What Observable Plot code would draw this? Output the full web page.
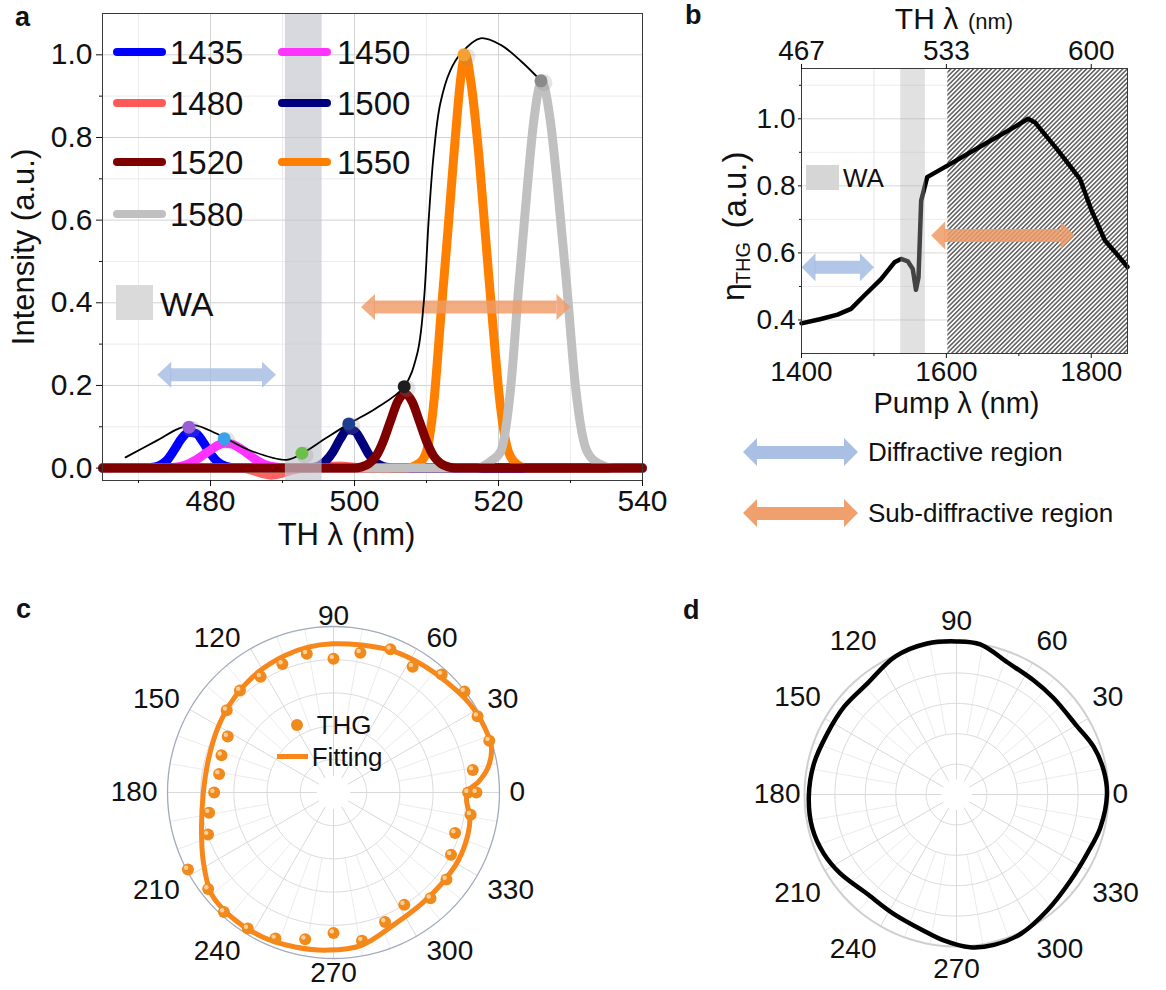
<!DOCTYPE html>
<html>
<head>
<meta charset="utf-8">
<script src="https://cdn.jsdelivr.net/npm/d3@7"></script>
<script src="https://cdn.jsdelivr.net/npm/@observablehq/plot@0.6"></script>
<style>
  html, body { margin: 0; padding: 0; background: #fff; }
  #fig { position: relative; width: 1166px; height: 990px; overflow: hidden; background: #fff;
         font-family: "Liberation Sans", Arial, Helvetica, sans-serif; color: #111; }
  #fig svg { overflow: visible; }
  .t { position: absolute; white-space: nowrap; line-height: 1.2; }
</style>
</head>
<body>
<div id="fig"></div>
<script>
// ================= DATA =================
// ---- Panel a : TH spectra for each pump wavelength ----
const seriesNames  = ["1435", "1450", "1480", "1500", "1520", "1550", "1580"];
const seriesColors = ["#0000ff", "#ff33ff", "#ff4646", "#00007f", "#7f0000", "#ff8000", "#c0c0c0"];
const s1435 = [[465,0],[471,0],[472,0.002],[473,0.007],[474,0.02],[475,0.045],[476,0.072],[477,0.087],[478,0.084],[479,0.062],[480,0.035],[481,0.015],[482,0.005],[483,0.001],[484,0],[540,0]];
const s1450 = [[465,0],[474,0],[475,0.002],[476,0.005],[477,0.011],[478,0.02],[479,0.032],[480,0.044],[481,0.055],[482,0.06],[483,0.058],[484,0.049],[485,0.037],[486,0.024],[487,0.013],[488,0.006],[489,0.003],[490,0.001],[491,0],[540,0]];
const s1480 = [[465,0],[484,0],[485.5,-0.004],[487,-0.012],[488.5,-0.017],[490,-0.012],[491.5,-0.004],[493,0],[496,0.004],[498,0.005],[500,0.002],[502,0],[540,0]];
const s1500 = [[465,0],[493,0],[494,0.001],[495,0.005],[496,0.017],[497,0.039],[498,0.07],[499,0.093],[500,0.09],[501,0.064],[502,0.033],[503,0.013],[504,0.004],[505,0.001],[506,0],[540,0]];
const s1520 = [[465,0],[500,0],[501,0.003],[502,0.011],[503,0.029],[504,0.065],[505,0.114],[506,0.161],[507,0.18],[508,0.161],[509,0.114],[510,0.065],[511,0.029],[512,0.011],[513,0.003],[514,0],[540,0]];
const s1550 = [[465,0],[507,0],[509,0.012],[510,0.04],[511,0.155],[512,0.37],[513,0.58],[514,0.8],[514.8,0.95],[515.4,1.0],[516.2,0.93],[517.2,0.77],[518.2,0.56],[519.2,0.35],[520.2,0.16],[521.2,0.05],[522.2,0.015],[524,0],[540,0]];
const s1580 = [[465,0],[517,0],[519,0.018],[520.3,0.04],[521.7,0.196],[522.8,0.437],[524,0.68],[524.9,0.84],[526,0.935],[527.2,0.84],[528.2,0.68],[529.5,0.437],[530.7,0.196],[532.3,0.04],[534,0.01],[536,0],[540,0]];
const seriesData = [s1435, s1450, s1480, s1500, s1520, s1550, s1580];
const drawOrder  = [0, 1, 2, 3, 5, 6, 4];
const envelope = [[468.2,0.026],[472.6,0.067],[475.5,0.095],[477.7,0.104],[480.9,0.083],[485.6,0.042],[490.6,0.02],[492.7,0.035],[496,0.072],[499.2,0.107],[503,0.145],[506.9,0.197],[508.7,0.276],[509.6,0.397],[510.3,0.6],[511.0,0.76],[511.9,0.881],[513.3,0.962],[514.9,1.006],[517.5,1.04],[520.3,1.024],[523.1,0.985],[525.9,0.937]];
const peakMarkers  = [[477.0,0.099],[481.9,0.071],[492.7,0.036],[499.2,0.107],[506.9,0.197],[515.2,1.0],[525.9,0.937]];
const markerColors = ["#9a5fd6", "#39a2ea", "#6dbf4b", "#1f3f8f", "#1e1e1e", "#f5a030", "#8a8a8a"];
const waBandA = [490.4, 495.5];
const arrowsA = [{x1: 472.6, x2: 489.1, y: 0.226, region: "Diffractive region"}, {x1: 500.9, x2: 530.0, y: 0.39, region: "Sub-diffractive region"}];
const xMajorA = [480, 500, 520, 540], xMinorA = [470, 490, 510, 530];
const yMajorA = [0, 0.2, 0.4, 0.6, 0.8, 1.0], yMinorA = [0.1, 0.3, 0.5, 0.7, 0.9];

// ---- Panel b : THG efficiency vs pump wavelength ----
const pumpWavelength = [1400,1426.8,1449.8,1468.3,1486.7,1509.8,1528.3,1537.5,1546.7,1553.6,1558,1561.5,1565.2,1573.5,1602,1648.2,1694.3,1712.8,1722,1754.3,1784.3,1800.5,1818.9,1832.7,1850];
const etaTHG         = [0.39,0.403,0.416,0.433,0.473,0.522,0.572,0.582,0.575,0.552,0.49,0.527,0.756,0.826,0.861,0.919,0.976,1.0,0.99,0.905,0.821,0.726,0.637,0.603,0.558];
const waBandB = [1537, 1571];
const hatchB = [1602, 1850];
const arrowsB = [{x1: 1400, x2: 1500, y: 0.557, region: "Diffractive region"}, {x1: 1579, x2: 1777, y: 0.652, region: "Sub-diffractive region"}];
const pumpTicks = [1400, 1600, 1800];
const thTickLabels = ["467", "533", "600"];
const yMajorB = [0.4, 0.6, 0.8, 1.0], yMinorB = [0.5, 0.7, 0.9, 1.1];
const regionNames = ["Diffractive region", "Sub-diffractive region"];
const regionColors = ["#a5bce3", "#ef9b66"];

// ---- Panel c : THG polar (angle deg, normalized intensity) ----
const thgPolar = [[0,0.811],[9.2,0.85],[18.4,0.989],[27.9,0.982],[37.6,0.996],[47.5,0.965],[57.8,0.895],[68.3,0.928],[79.1,0.857],[90,0.806],[100.9,0.851],[111.7,0.833],[122.2,0.824],[132.5,0.834],[142.4,0.812],[152.1,0.721],[161.6,0.711],[170.8,0.698],[180,0.719],[189.2,0.759],[198.5,0.797],[207.9,0.992],[217.6,0.953],[227.5,0.977],[237.8,0.969],[248.3,0.946],[259.1,0.901],[270,0.847],[280.9,0.909],[291.7,0.84],[302.2,0.8],[312.5,0.865],[322.4,0.859],[332.1,0.801],[341.6,0.772],[350.8,0.837],[360,0.861]];
const fitPolar = [[0.8,0.811],[4.1,0.874],[9.3,0.944],[16,0.99],[23.3,0.991],[33.1,0.979],[43.4,0.954],[55.3,0.937],[68,0.923],[79.2,0.904],[90.4,0.896],[99.9,0.889],[109.5,0.876],[122.1,0.855],[136,0.827],[150.5,0.799],[165.6,0.779],[180.6,0.785],[194.7,0.822],[207.6,0.886],[219.7,0.956],[230.7,0.97],[243.6,0.97],[256,0.959],[268,0.95],[280.4,0.936],[295.1,0.874],[308.3,0.855],[319.8,0.852],[331.4,0.856],[343,0.848],[349.7,0.835],[356.6,0.803]];

// ---- Panel d : polar response ----
const dPolar = [[0,0.99],[9,0.982],[19,0.956],[30,0.91],[45,0.9],[56,0.906],[69,0.932],[81,1.0],[90,1.007],[101,1.012],[114,0.993],[129,0.936],[142,0.938],[155,0.94],[168,0.96],[181,0.972],[193,0.974],[204,0.956],[214,0.925],[228,0.879],[242,0.887],[256,0.92],[265,0.964],[275,1.009],[284,1.02],[295,1.009],[308,0.969],[323,0.94],[336,0.944],[347,0.971]];
const polarLabelAngles = [0, 30, 60, 90, 120, 150, 180, 210, 240, 270, 300, 330];
const ringRadii = [0.2, 0.4, 0.6, 0.8];
const majorSpokes = [0, 30, 60, 90, 120, 150, 180, 210, 240, 270, 300, 330];
const minorSpokes = d3.range(0, 360, 10).filter(a => a % 30 !== 0);
const ringAngles = d3.range(0, 360, 6);

// ================= HELPERS =================
const FONT = '"Liberation Sans", Arial, Helvetica, sans-serif';
const fig = document.getElementById("fig");
const baseStyle = {fontFamily: FONT, color: "#111", background: "transparent", overflow: "visible", maxWidth: "none"};
function mount(node, left, top) {
  const w = document.createElement("div");
  w.style.cssText = `position:absolute;left:${left}px;top:${top}px;`;
  w.appendChild(node); fig.appendChild(w); return w;
}
function label(text, x, baseline, size, {anchor = "start", weight = "normal"} = {}) {
  const d = document.createElement("div");
  d.className = "t";
  d.textContent = text;
  d.style.left = x + "px";
  d.style.top = (baseline - 0.9465 * size) + "px";
  d.style.fontSize = size + "px";
  d.style.fontWeight = weight;
  if (anchor === "middle") d.style.transform = "translateX(-50%)";
  if (anchor === "end") d.style.transform = "translateX(-100%)";
  fig.appendChild(d); return d;
}
function box(x, y, w, h, css) {
  const d = document.createElement("div");
  d.style.cssText = `position:absolute;left:${x}px;top:${y}px;width:${w}px;height:${h}px;` + css;
  fig.appendChild(d); return d;
}
function cssArrow(x1, x2, yc, color, shaft = 13, len = 14, half = 14) {
  const c = box(x1, yc - half, x2 - x1, 2 * half, "opacity:0.95;");
  c.innerHTML =
    `<div style="position:absolute;left:${len}px;right:${len}px;top:${half - shaft / 2}px;height:${shaft}px;background:${color}"></div>` +
    `<div style="position:absolute;left:0;top:0;width:0;height:0;border-top:${half}px solid transparent;border-bottom:${half}px solid transparent;border-right:${len}px solid ${color}"></div>` +
    `<div style="position:absolute;right:0;top:0;width:0;height:0;border-top:${half}px solid transparent;border-bottom:${half}px solid transparent;border-left:${len}px solid ${color}"></div>`;
}
// double-headed arrow drawn with Plot marks (shaft rule + triangular heads)
function arrowMarks(data, colorOf, {len = 14, half = 13, width = 13, opacity = 0.85} = {}) {
  const right = {draw(ctx) { ctx.moveTo(0, 0); ctx.lineTo(-len, -half); ctx.lineTo(-len, half); ctx.closePath(); }};
  const left  = {draw(ctx) { ctx.moveTo(0, 0); ctx.lineTo(len, -half); ctx.lineTo(len, half); ctx.closePath(); }};
  return data.map(d => [
    Plot.ruleY([d], {y: "y", x1: "x1", x2: "x2", stroke: colorOf(d), strokeWidth: width, strokeOpacity: opacity, insetLeft: len - 0.5, insetRight: len - 0.5}),
    Plot.dot([d], {x: "x1", y: "y", symbol: left, r: 5, fill: colorOf(d), fillOpacity: opacity}),
    Plot.dot([d], {x: "x2", y: "y", symbol: right, r: 5, fill: colorOf(d), fillOpacity: opacity})
  ]);
}
const regionColor = d => regionColors[regionNames.indexOf(d.region)];
const rad = a => a * Math.PI / 180;
const T = (s, opts) => Plot.text([s], {text: d => d, textAnchor: "middle", lineAnchor: "middle", ...opts});

// ================= PANEL A =================
const plotA = Plot.plot({
  width: 660, height: 560,
  marginLeft: 102, marginRight: 18, marginTop: 13, marginBottom: 80,
  style: {...baseStyle, fontSize: "30px"},
  x: {domain: [465, 540]},
  y: {domain: [-0.03, 1.1]},
  color: {type: "identity"},
  marks: [
    Plot.gridX(xMinorA, {stroke: "#ececec", strokeOpacity: 1}),
    Plot.gridY(yMinorA, {stroke: "#ececec", strokeOpacity: 1}),
    Plot.gridX(xMajorA, {stroke: "#d2d2d2", strokeOpacity: 1}),
    Plot.gridY(yMajorA, {stroke: "#d2d2d2", strokeOpacity: 1}),
    drawOrder.map(i => Plot.line(seriesData[i], {
      x: d => d[0], y: d => d[1], stroke: seriesColors[i], strokeWidth: 9,
      strokeOpacity: i === 2 ? 0.85 : 1, curve: "monotone-x", strokeLinejoin: "round"
    })),
    Plot.rect([waBandA], {x1: d => d[0], x2: d => d[1], fill: "#c5c5d0", fillOpacity: 0.68}),
    arrowMarks(arrowsA, regionColor, {len: 14, half: 13, width: 13, opacity: 0.82}),
    Plot.line(envelope, {x: d => d[0], y: d => d[1], stroke: "#000", strokeWidth: 1.8, curve: "catmull-rom"}),
    Plot.dot(peakMarkers, {x: d => d[0], y: d => d[1], r: 8.5, fill: "#888", fillOpacity: 0.22, dx: 3, dy: 2}),
    Plot.dot(peakMarkers, {x: d => d[0], y: d => d[1], r: 6.5, fill: (d, i) => markerColors[i]}),
    Plot.frame({stroke: "#3a3a3a"}),
    Plot.axisX(xMajorA, {tickSize: 6, tickPadding: 3, fontSize: 30, label: null}),
    Plot.axisX(xMinorA, {tickSize: 3, tickFormat: () => "", label: null}),
    Plot.axisY(yMajorA, {tickSize: 6, tickPadding: 4, tickFormat: ".1f", fontSize: 30, label: null}),
    Plot.axisY(yMinorA, {tickSize: 3, tickFormat: () => "", label: null}),
    T("TH λ (nm)", {frameAnchor: "bottom", dx: -26, dy: 55, fontSize: 31}),
    T("Intensity (a.u.)", {frameAnchor: "left", rotate: -90, dx: -78, fontSize: 31})
  ]
});
mount(plotA, 0, 0);

// legend of panel a (HTML overlay)
const legRows = [52, 103, 162, 214], legLineX = [113, 278], legTextX = [170, 337];
seriesNames.forEach((name, i) => {
  const col = i % 2, row = Math.floor(i / 2);
  box(legLineX[col], legRows[row] - 4, 53, 8, `background:${seriesColors[i]};border-radius:4px;opacity:${i === 2 ? 0.9 : 1};`);
  label(name, legTextX[col], legRows[row] + 11.8, 33);
});
box(116, 285, 36.5, 35, "background:#dadada;");
label("WA", 160, 316, 34);

// ================= PANEL B =================
const plotB = Plot.plot({
  width: 506, height: 420,
  marginLeft: 141, marginRight: 39, marginTop: 68, marginBottom: 67,
  style: {...baseStyle, fontSize: "28px"},
  x: {domain: [1400, 1850]},
  y: {domain: [0.3, 1.15]},
  marks: [
    Plot.gridY(yMinorB, {stroke: "#ededed", strokeOpacity: 1}),
    Plot.gridY(yMajorB, {stroke: "#d8d8d8", strokeOpacity: 1}),
    Plot.gridX([1500, 1700], {stroke: "#e4e4e4", strokeOpacity: 1}),
    Plot.rect([hatchB], {x1: d => d[0], x2: d => d[1], fill: "url(#hatchB)"}),
    Plot.line(pumpWavelength.map((p, i) => [p, etaTHG[i]]), {x: d => d[0], y: d => d[1], stroke: "#000", strokeWidth: 4.5, curve: "linear", strokeLinejoin: "round"}),
    Plot.rect([waBandB], {x1: d => d[0], x2: d => d[1], fill: "#b0b0b0", fillOpacity: 0.38}),
    arrowMarks(arrowsB, regionColor, {len: 14, half: 14, width: 13, opacity: 0.85}),
    Plot.frame({stroke: "#3a3a3a"}),
    Plot.axisX(pumpTicks, {tickSize: 5, tickPadding: 3, fontSize: 28, label: null, tickFormat: d => String(d)}),
    Plot.axisX([1500, 1700], {tickSize: 3, tickFormat: () => "", label: null}),
    Plot.axisX(pumpTicks, {anchor: "top", tickSize: 5, tickPadding: 4, fontSize: 28, label: null,
      tickFormat: d => thTickLabels[pumpTicks.indexOf(d)]}),
    Plot.axisY(yMajorB, {tickSize: 3, tickPadding: 3, tickFormat: ".1f", fontSize: 28, label: null}),
    Plot.axisY(yMinorB, {tickSize: 2, tickFormat: () => "", label: null}),
    T("Pump λ (nm)", {frameAnchor: "bottom", dx: -8, dy: 50, fontSize: 29}),
    T("TH λ", {frameAnchor: "top", dx: -38, dy: -49, fontSize: 30}),
    T("(nm)", {frameAnchor: "top", dx: 26, dy: -47, fontSize: 22}),
    T("η", {frameAnchor: "left", rotate: -90, dx: -68, dy: 81, fontSize: 32}),
    T("THG", {frameAnchor: "left", rotate: -90, dx: -58, dy: 52, fontSize: 20}),
    T("(a.u.)", {frameAnchor: "left", rotate: -90, dx: -66, dy: -21, fontSize: 33})
  ]
});
{
  const svg = plotB.tagName.toLowerCase() === "svg" ? plotB : plotB.querySelector("svg");
  const pat = d3.select(svg).insert("defs", ":first-child").append("pattern")
    .attr("id", "hatchB").attr("patternUnits", "userSpaceOnUse")
    .attr("width", 3.2).attr("height", 3.2).attr("patternTransform", "rotate(45)");
  pat.append("rect").attr("width", 3.2).attr("height", 3.2).attr("fill", "#ffffff");
  pat.append("line").attr("x1", 1.6).attr("y1", 0).attr("x2", 1.6).attr("y2", 3.2)
    .attr("stroke", "#333333").attr("stroke-width", 1.2);
}
mount(plotB, 660, 0);
box(806, 165, 33, 25, "background:#d6d6d6;");
label("WA", 843, 187.6, 26);

// region legend below panel b
const legendRowsB = [452, 513];
regionNames.forEach((name, i) => {
  cssArrow(743, 858, legendRowsB[i], regionColors[i]);
  label(name, 868, legendRowsB[i] + 9.3, 26);
});

// ================= POLAR PANELS =================
function polarPanel({cx, cy, Rx, Ry, left, top, width, height, gx, gyTop, gyBot, outerStroke, outerWidth, dataMarks}) {
  const fs = 28;
  const ringPts = ringRadii.flatMap(r => ringAngles.map(a => ({r, a})));
  const outerPts = ringAngles.map(a => ({r: 1, a}));
  const ccx = cx - left, ccy = cy - top;
  const sgn = v => (Math.abs(v) < 1e-6 ? 0 : Math.sign(v));
  // angle labels anchored by the side of the ring they sit on
  const labelMarks = polarLabelAngles.map(a => {
    const sx = sgn(Math.round(Math.cos(rad(a)) * 1000)), sy = sgn(Math.round(Math.sin(rad(a)) * 1000));
    const gy = sy > 0 ? gyTop : gyBot;
    return Plot.text([a], {
      x: d => Math.cos(rad(d)) + sx * gx / Rx,
      y: d => Math.sin(rad(d)) + sy * gy / Ry,
      text: d => String(d), fontSize: fs,
      textAnchor: sx > 0 ? "start" : sx < 0 ? "end" : "middle",
      lineAnchor: sy > 0 ? "bottom" : sy < 0 ? "top" : "middle"
    });
  });
  return Plot.plot({
    width, height, margin: 0,
    style: {...baseStyle, fontSize: fs + "px"},
    x: {domain: [-ccx / Rx, (width - ccx) / Rx], axis: null},
    y: {domain: [-(height - ccy) / Ry, ccy / Ry], axis: null},
    marks: [
      Plot.link(minorSpokes, {x1: a => 0.4 * Math.cos(rad(a)), y1: a => 0.4 * Math.sin(rad(a)), x2: a => Math.cos(rad(a)), y2: a => Math.sin(rad(a)), stroke: "#ececec", strokeWidth: 1}),
      Plot.link(majorSpokes, {x1: a => 0.1 * Math.cos(rad(a)), y1: a => 0.1 * Math.sin(rad(a)), x2: a => Math.cos(rad(a)), y2: a => Math.sin(rad(a)), stroke: "#d9d9d9", strokeWidth: 1}),
      Plot.line(ringPts, {x: d => d.r * Math.cos(rad(d.a)), y: d => d.r * Math.sin(rad(d.a)), z: "r", curve: "catmull-rom-closed", stroke: "#dcdcdc", strokeWidth: 1}),
      Plot.line(outerPts, {x: d => Math.cos(rad(d.a)), y: d => Math.sin(rad(d.a)), curve: "catmull-rom-closed", stroke: outerStroke, strokeWidth: outerWidth}),
      dataMarks,
      labelMarks
    ]
  });
}
const px = d => d[1] * Math.cos(rad(d[0]));
const py = d => d[1] * Math.sin(rad(d[0]));

// panel c
const plotC = polarPanel({
  cx: 333, cy: 792, Rx: 166, Ry: 166, left: 92, top: 596, width: 480, height: 394,
  gx: 10, gyTop: 2, gyBot: 4, outerStroke: "#a3abbd", outerWidth: 1.3,
  dataMarks: [
    Plot.line(fitPolar, {x: px, y: py, curve: "catmull-rom-closed", stroke: "#f7861b", strokeWidth: 5}),
    Plot.dot(thgPolar, {x: px, y: py, r: 6, fill: "#f08a1c"}),
    Plot.dot(thgPolar, {x: px, y: py, r: 2.2, fill: "#ffd7a6", fillOpacity: 0.9, dx: -1.8, dy: -1.8})
  ]
});
mount(plotC, 92, 596);
// legend of panel c
box(290.7, 719, 12, 12, "background:#f08a1c;border-radius:50%;");
label("THG", 316.7, 734.3, 26);
box(276.7, 754.2, 31.6, 5, "background:#f7861b;");
label("Fitting", 311.7, 766.3, 26);

// panel d
const plotD = polarPanel({
  cx: 956, cy: 794, Rx: 152, Ry: 152, left: 746, top: 598, width: 420, height: 392,
  gx: 4, gyTop: 13, gyBot: 12, outerStroke: "#cfcfcf", outerWidth: 2,
  dataMarks: [
    Plot.line(dPolar, {x: px, y: py, curve: "catmull-rom-closed", stroke: "#000", strokeWidth: 4.5})
  ]
});
mount(plotD, 746, 598);

// panel letters
label("a", 15, 27, 27, {weight: "bold"});
label("b", 685, 25, 27, {weight: "bold"});
label("c", 16, 619, 27, {weight: "bold"});
label("d", 683, 620, 27, {weight: "bold"});
</script>
</body>
</html>
